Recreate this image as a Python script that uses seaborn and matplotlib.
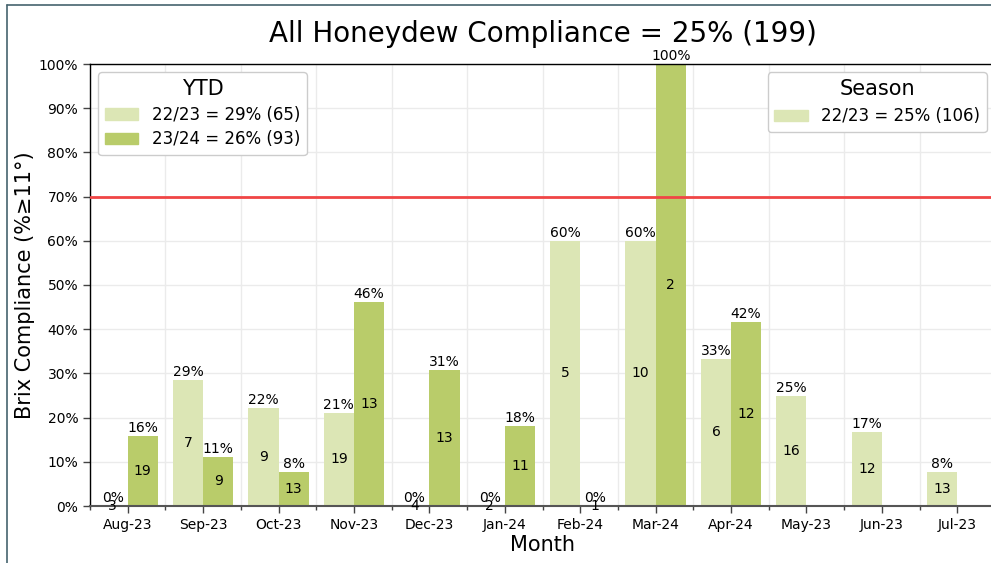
import numpy as np
import pandas as pd
import matplotlib
matplotlib.use("Agg")
import matplotlib.pyplot as plt
from matplotlib.patches import Patch
from matplotlib.lines import Line2D
from matplotlib.ticker import FixedLocator, PercentFormatter
import seaborn as sns

# Data
months = ['Aug-23', 'Sep-23', 'Oct-23', 'Nov-23', 'Dec-23', 'Jan-24',
          'Feb-24', 'Mar-24', 'Apr-24', 'May-23', 'Jun-23', 'Jul-23']
pct_2223 = [0.0, 28.6, 22.2, 21.1, 0.0, 0.0, 60.0, 60.0, 33.3, 25.0, 16.7, 7.7]
n_2223 = [3, 7, 9, 19, 4, 2, 5, 10, 6, 16, 12, 13]
pct_2324 = [15.8, 11.1, 7.7, 46.2, 30.8, 18.2, 0.0, 100.0, 41.7, np.nan, np.nan, np.nan]
n_2324 = [19, 9, 13, 13, 13, 11, 1, 2, 12, np.nan, np.nan, np.nan]
seasons = ['22/23', '23/24']
ytd_labels = ['22/23 = 29% (65)', '23/24 = 26% (93)']
season_labels = ['22/23 = 25% (106)']
target = 70

dark = '#b9cc6a'
light = '#dce6b5'

df = pd.DataFrame({
    'Month': months * 2,
    'Season': ['22/23'] * len(months) + ['23/24'] * len(months),
    'Compliance': pct_2223 + pct_2324,
    'Count': n_2223 + n_2324,
}).dropna()

sns.set_style('white')
plt.rcParams['font.family'] = ['DejaVu Sans']
plt.rcParams.update({'text.color': 'black', 'axes.labelcolor': 'black',
                     'xtick.color': 'black', 'ytick.color': 'black'})

fig = plt.figure(figsize=(9.91, 5.63), dpi=100)
ax = fig.add_axes([90 / 991, 1 - 506 / 563, 905 / 991, 442 / 563])

sns.barplot(data=df, x='Month', y='Compliance', hue='Season', order=months,
            hue_order=seasons, palette=[light, dark], errorbar=None,
            width=0.8, saturation=1, legend=False, linewidth=0, ax=ax, zorder=2)

# labels: percent above bar, sample count in the middle
for cont, season in zip(ax.containers, seasons):
    sub = df[df['Season'] == season]
    ax.bar_label(cont, labels=[f'{v:.0f}%' for v in sub['Compliance']],
                 padding=0.5, fontsize=10)
    ax.bar_label(cont, labels=[f'{int(c)}' for c in sub['Count']],
                 label_type='center', fontsize=10)

ax.axhline(target, color='#f04545', lw=2, zorder=3)

ax.set_xlim(-0.5, len(months) - 0.5)
ax.set_ylim(0, 100)
ax.yaxis.set_major_locator(FixedLocator(np.arange(0, 101, 10)))
ax.yaxis.set_major_formatter(PercentFormatter(decimals=0))
ax.xaxis.set_minor_locator(FixedLocator(np.arange(-0.5, len(months), 1)))
ax.grid(axis='y', which='major', color='#ebebeb', lw=1, zorder=0)
ax.grid(axis='x', which='minor', color='#ebebeb', lw=1, zorder=0)
ax.set_axisbelow(True)
ax.tick_params(axis='both', which='major', labelsize=10, length=5, width=1,
               color='#444444', bottom=True, left=True)
ax.tick_params(axis='x', which='minor', length=3, width=1, color='#444444', bottom=True)

for side in ['left', 'top']:
    ax.spines[side].set_color('black')
    ax.spines[side].set_linewidth(1)
ax.spines['bottom'].set_color('#555555')
ax.spines['bottom'].set_linewidth(1.5)
ax.spines['right'].set_visible(False)

ax.set_title('All Honeydew Compliance = 25% (199)', fontsize=20, pad=16)
ax.set_xlabel('Month', fontsize=15, labelpad=2)
ax.set_ylabel('Brix Compliance (%\u226511\u00b0)', fontsize=15, labelpad=3)

leg1 = ax.legend(handles=[Patch(color=light), Patch(color=dark)], labels=ytd_labels,
                 title='YTD', loc='upper left', fontsize=12, title_fontsize=15,
                 framealpha=1, borderaxespad=0.5, labelspacing=0.4)
ax.add_artist(leg1)
ax.legend(handles=[Patch(color=light)], labels=season_labels,
          title='Season', loc='upper right', fontsize=12, title_fontsize=15,
          framealpha=1, bbox_to_anchor=(1.0, 1), borderaxespad=0.5)

# frame of the screenshot
fig.add_artist(Line2D([7 / 991, 7 / 991], [0, 1 - 5 / 563], color='#46636e', lw=1.2))
fig.add_artist(Line2D([7 / 991, 1], [1 - 5 / 563, 1 - 5 / 563], color='#46636e', lw=1.2))

fig.savefig('out.png', dpi=100)
